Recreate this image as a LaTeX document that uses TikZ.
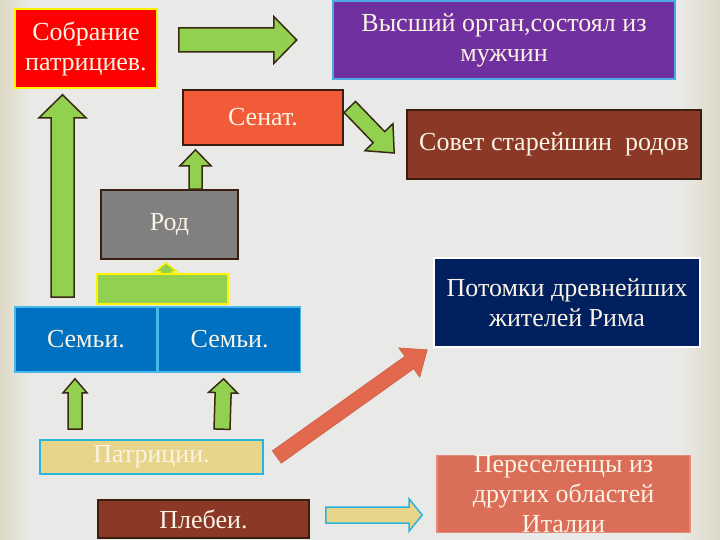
\documentclass[tikz,border=0pt]{standalone}
\usepackage{fontspec}
\setmainfont{Liberation Serif}
\newfontfamily\labelfont{Liberation Serif}
\usepackage{xcolor}
\usetikzlibrary{positioning, calc}

\definecolor{bgcol}{HTML}{E9E9E7}
\definecolor{edgecol}{HTML}{DDD9C6}
\definecolor{leafgreen}{HTML}{92D050}
\definecolor{arrowrim}{HTML}{3A2A12}
\definecolor{royalpurple}{HTML}{7030A0}
\definecolor{skyrim}{HTML}{4FA8E0}
\definecolor{senatred}{HTML}{F25B38}
\definecolor{brickbrown}{HTML}{8B3826}
\definecolor{darkrim}{HTML}{3A1E12}
\definecolor{stonegray}{HTML}{808080}
\definecolor{familyblue}{HTML}{0070C0}
\definecolor{familyrim}{HTML}{48B8E8}
\definecolor{khaki}{HTML}{E6D58A}
\definecolor{cyanrim}{HTML}{2AB4DC}
\definecolor{navyblue}{HTML}{002060}
\definecolor{salmon}{HTML}{DB6E58}
\definecolor{arroworange}{HTML}{E2694D}
\definecolor{cream}{HTML}{FBF3E4}

% block arrow: [style]{tail}{tip}{half shaft}{half head}{head length}
\newcommand{\blockarrow}[6][]{%
  \coordinate (neck) at ($(#3)!#6pt!(#2)$);
  \draw[#1] ($(#2)!#4pt!90:(#3)$) -- ($(neck)!#4pt!90:(#3)$) -- ($(neck)!#5pt!90:(#3)$)
    -- (#3) -- ($(neck)!#5pt!-90:(#3)$) -- ($(neck)!#4pt!-90:(#3)$)
    -- ($(#2)!#4pt!-90:(#3)$) -- cycle;
}

\begin{document}
\begin{tikzpicture}[
        x=1pt, y=-1pt,
        every node/.style={font=\labelfont\fontsize{26}{30}\selectfont, text=cream, align=center, inner sep=0pt},
        box/.style={draw, rectangle, line width=1.6pt},
        greenarrow/.style={fill=leafgreen, draw=arrowrim, line width=1.5pt},
    ]

    % background
    \fill[bgcol] (0,0) rectangle (720,540);
    \shade[left color=edgecol, right color=bgcol] (0,0) rectangle (30,540);
    \shade[left color=bgcol, right color=edgecol] (680,0) rectangle (720,540);
    \useasboundingbox (0,0) rectangle (720,540);

    \node[box, fill=red, draw=yellow, minimum width=142pt, minimum height=79pt] (sobranie) at (86,48.5) {Собрание\\патрициев.};
    \node[box, fill=royalpurple, draw=skyrim, line width=2.5pt, minimum width=342pt, minimum height=78pt] (vysshiy) at (504,40) {Высший орган,состоял из\\мужчин};
    \node[box, fill=senatred, draw=darkrim, minimum width=160pt, minimum height=55pt] (senat) at (263,117.5) {Сенат.};
    \node[box, fill=brickbrown, draw=darkrim, minimum width=294pt, minimum height=69pt] (sovet) at (554,144.5) {Совет старейшин~ родов};
    \node[box, fill=stonegray, draw=darkrim, minimum width=137pt, minimum height=69pt] (rod) at (169.5,224.5) {Род};

    \node[box, fill=familyblue, draw=familyrim, minimum width=142pt, minimum height=65pt] (semya1) at (86,339.5) {Семьи.};
    \node[box, fill=familyblue, draw=familyrim, minimum width=142pt, minimum height=65pt, right=0pt of semya1] (semya2) {Семьи.};

    \node[box, fill=khaki, draw=cyanrim, minimum width=223pt, minimum height=34pt] (patricii) at (151.5,457) {Патриции.};
    \node[box, fill=brickbrown, draw=darkrim, minimum width=211pt, minimum height=38pt] (plebei) at (203.5,519) {Плебеи.};

    \node[box, fill=navyblue, draw=white, minimum width=266pt, minimum height=89pt] (potomki) at (567,302.5) {Потомки древнейших\\жителей Рима};
    \node[box, fill=salmon, draw=salmon!80!white, minimum width=253pt, minimum height=76pt] (pereselency) at (563.5,494) {Переселенцы из\\других областей\\Италии};

    % arrow ends
    \coordinate (a-tail) at ($(sobranie.east)+(21,-8.5)$);
    \coordinate (a-tip) at ($(vysshiy.west)+(-35,0)$);
    \coordinate (b-tail) at ($(senat.east)+(6,-10.5)$);
    \coordinate (b-tip) at ($(sovet.west)+(-12,8.5)$);
    \coordinate (c-tail) at ($(rod.north)+(26,0)$);
    \coordinate (c-tip) at ($(senat.south)+(-67.5,4)$);
    \coordinate (d-tail) at ($(rod.south)+(-3.5,15)$);
    \coordinate (d-tip) at ($(rod.south)+(-3.5,3)$);
    \coordinate (e-tail) at ($(semya1.north)+(-23.5,-9)$);
    \coordinate (e-tip) at ($(sobranie.south)+(-23.5,6)$);
    \coordinate (f-tail) at ($(patricii.north)+(-76.5,-10)$);
    \coordinate (f-tip) at ($(semya1.south)+(-11,6)$);
    \coordinate (g-tail) at ($(patricii.north)+(70.5,-10)$);
    \coordinate (g-tip) at ($(semya2.south)+(-6,6)$);
    \coordinate (h-tail) at ($(patricii.east)+(13,0)$);
    \coordinate (h-tip) at ($(potomki.south west)+(-6,2)$);
    \coordinate (i-tail) at ($(plebei.east)+(16,-4)$);
    \coordinate (i-tip) at ($(pereselency.west)+(-14,21)$);

    % arrow from Род stands on a green bar
    \blockarrow[fill=leafgreen, draw=yellow, line width=1.5pt]{d-tail}{d-tip}{6}{11}{9}
    \node[box, fill=leafgreen, draw=yellow, minimum width=131pt, minimum height=30pt] (bar) at (162.5,289) {};

    \blockarrow[greenarrow]{a-tail}{a-tip}{12}{23.5}{23}
    \blockarrow[greenarrow]{b-tail}{b-tip}{8}{19.5}{22}
    \blockarrow[greenarrow]{c-tail}{c-tip}{6.5}{15.5}{16}
    \blockarrow[greenarrow]{e-tail}{e-tip}{11.5}{23.5}{23}
    \blockarrow[greenarrow]{f-tail}{f-tip}{7}{12}{14}
    \blockarrow[greenarrow]{g-tail}{g-tip}{8}{14.5}{14}
    \blockarrow[fill=arroworange, draw=arroworange!90!black, line width=0.6pt]{h-tail}{h-tip}{7.6}{18}{22}
    \blockarrow[fill=khaki, draw=cyanrim, line width=1.5pt]{i-tail}{i-tip}{8}{16}{13}

\end{tikzpicture}
\end{document}
